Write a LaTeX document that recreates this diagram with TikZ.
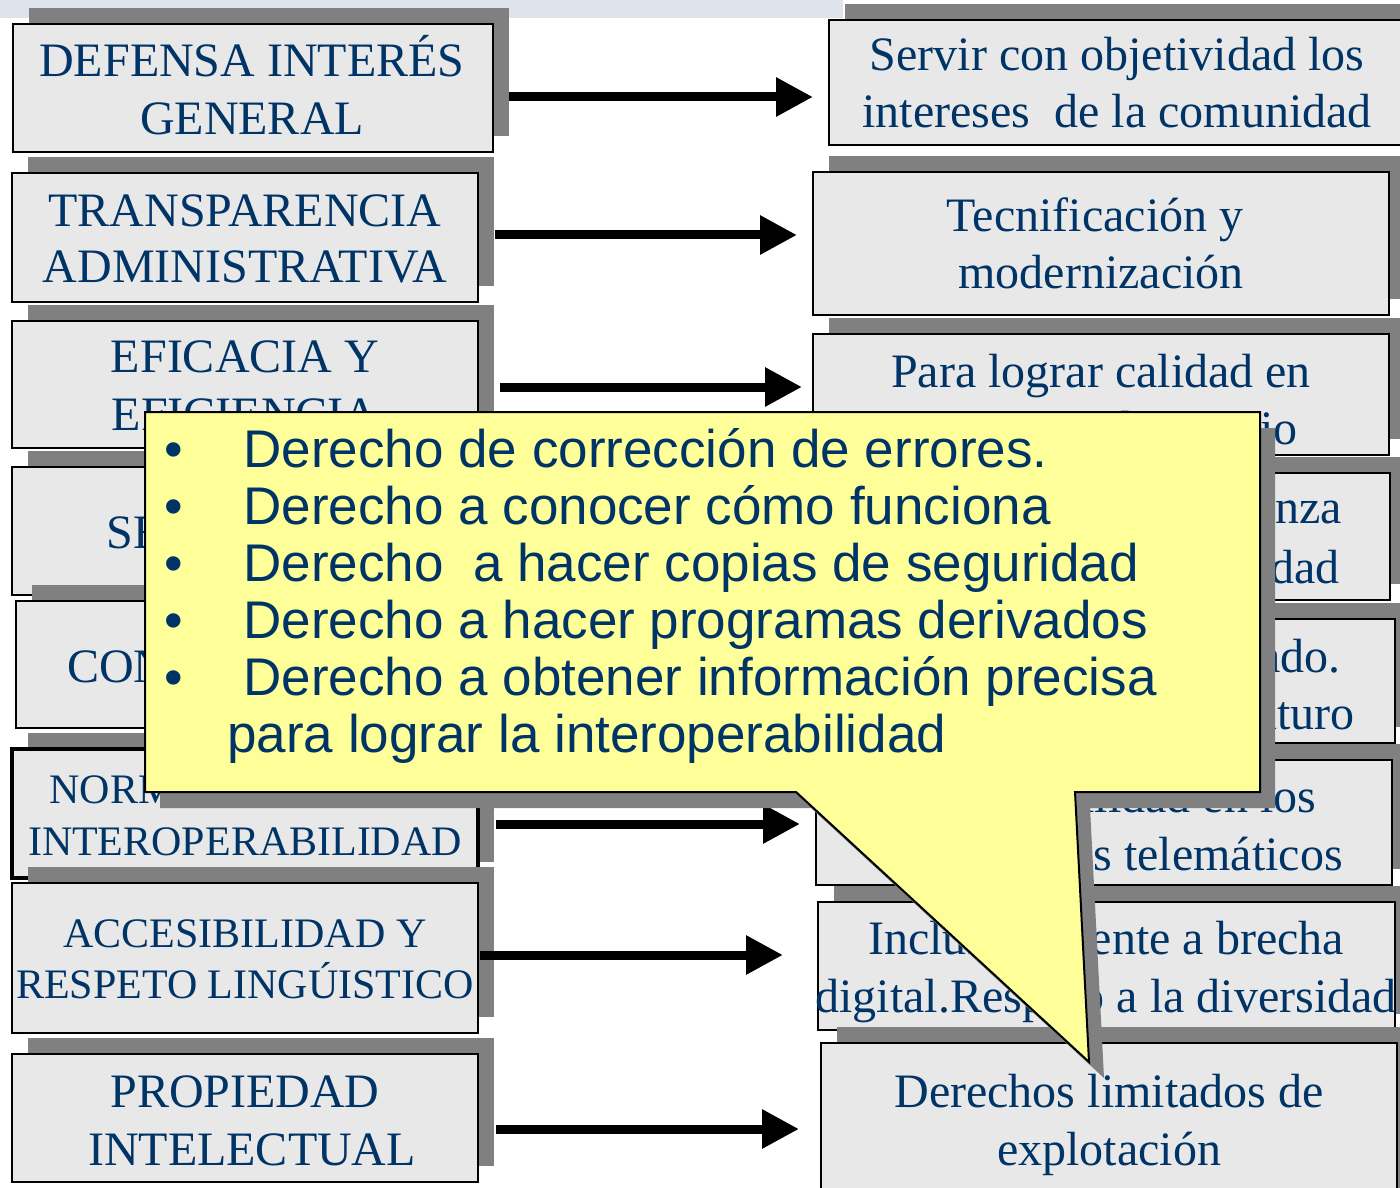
\documentclass[tikz,border=0pt]{standalone}
\usepackage{fontspec}
\setmainfont{Liberation Serif}
\newfontfamily\arialf{Liberation Sans}
\usetikzlibrary{arrows.meta,shadows}
\definecolor{txt}{RGB}{0,51,102}
\definecolor{boxfill}{RGB}{232,232,232}
\definecolor{shd}{RGB}{128,128,128}
\definecolor{note}{RGB}{255,255,153}
\definecolor{band}{RGB}{222,227,236}
\tikzset{
  box/.style={draw=black, line width=1pt, fill=boxfill, inner sep=0pt, outer sep=0pt,
    drop shadow={shadow xshift=8pt, shadow yshift=8pt, fill=shd, opacity=1}},
  bt/.style={anchor=base, inner sep=0pt, text=txt, font=\fontsize{24}{29}\selectfont},
  bts/.style={anchor=base, inner sep=0pt, text=txt, font=\fontsize{21}{25}\selectfont},
  bte/.style={anchor=base east, inner sep=0pt, text=txt, font=\fontsize{24}{29}\selectfont},
  arr/.style={line width=4.5pt, -{Triangle[length=18.5pt,width=18.5pt]}},
  nt/.style={anchor=base west, inner sep=0pt, text=txt, font=\arialf\fontsize{26.5}{28.5}\selectfont},
  bul/.style={anchor=base, inner sep=0pt, text=txt, font=\arialf\fontsize{26.5}{28.5}\selectfont},
}
\begin{document}
\begin{tikzpicture}[x=0.5pt,y=-0.5pt]
\useasboundingbox (0,0) rectangle (1400,1187);
\clip (0,0) rectangle (1400,1187);
\fill[band] (0,0) rectangle (843,18);

% ---------- left column ----------
\node[box, minimum width=240pt, minimum height=64pt] (L1) at (253,88) {};
\node[bt] (L1a) at (252,77) {DEFENSA INTERÉS};
\node[bt] (L1b) at (252,135) {GENERAL};

\node[box, minimum width=233pt, minimum height=64.5pt] (L2) at (245,237.5) {};
\node[bt] (L2a) at (245,227) {TRANSPARENCIA};
\node[bt] (L2b) at (245,283) {ADMINISTRATIVA};

\node[box, minimum width=233pt, minimum height=63.5pt] (L3) at (245,384.5) {};
\node[bt] (L3a) at (245,372) {EFICACIA Y};
\node[bt] (L3b) at (245,430) {EFICIENCIA};

\node[box, minimum width=233pt, minimum height=64pt] (L4) at (245,531) {};
\node[bt] (L4a) at (245,548) {SEGURIDAD};

\node[box, minimum width=233pt, minimum height=63.5pt] (L5) at (249,664.5) {};
\node[bt] (L5a) at (250,682) {CONSERVACIÓN};

\node[box, line width=1.6pt, minimum width=233pt, minimum height=64.5pt] (L6) at (245,813.5) {};
\node[bts] (L6a) at (245,803) {NORMALIZACIÓN E};
\node[bts] (L6b) at (245,855) {INTEROPERABILIDAD};

\node[box, minimum width=233pt, minimum height=75pt] (L7) at (245,957.5) {};
\node[bts] (L7a) at (245,947) {ACCESIBILIDAD Y};
\node[bts] (L7b) at (245,998) {RESPETO LINGÚISTICO};

\node[box, minimum width=233pt, minimum height=64pt] (L8) at (245,1118) {};
\node[bt] (L8a) at (245,1107) {PROPIEDAD};
\node[bt] (L8b) at (252,1165) {INTELECTUAL};

% ---------- right column ----------
\node[box, minimum width=288pt, minimum height=62.5pt] (R1) at (1117,82.5) {};
\node[bt] (R1a) at (1117,71) {Servir con objetividad los};
\node[bt] (R1b) at (1117,128) {intereses\ \ de la comunidad};

\node[box, minimum width=288pt, minimum height=71.5pt] (R2) at (1101,243.5) {};
\node[bt] (R2a) at (1095,232) {Tecnificación y};
\node[bt] (R2b) at (1101,289) {modernización};

\node[box, minimum width=288pt, minimum height=60.5pt] (R3) at (1101,394.5) {};
\node[bt] (R3a) at (1101,387) {Para lograr calidad en};
\node[bte] (R3b) at (1298,444) {el servicio};

\node[box, minimum width=288.5pt, minimum height=63.5pt] (R4) at (1101.5,536.5) {};
\node[bte] (R4a) at (1342,523) {Generar confianza};
\node[bte] (R4b) at (1340,583) {y seguridad};

\node[box, minimum width=288.5pt, minimum height=62pt] (R5) at (1106.5,681) {};
\node[bte] (R5a) at (1341,672) {Conservar lo tramitado.};
\node[bte] (R5b) at (1355,729) {Acceso en el futuro};

\node[box, minimum width=288pt, minimum height=62.5pt] (R6) at (1104,822.5) {};
\node[bt] (R6a) at (1104,812) {Compatibilidad en los};
\node[bte] (R6b) at (1343,870) {Procesos telemáticos};

\node[box, minimum width=288.5pt, minimum height=64pt] (R7) at (1106.5,966) {};
\node[bt] (R7a) at (1106,954) {Inclusión frente a brecha};
\node[bt] (R7b) at (1106,1012) {digital.Respeto a la diversidad};

\node[box, minimum width=288pt, minimum height=88.5pt] (R8) at (1109,1131.5) {};
\node[bt] (R8a) at (1109,1107) {Derechos limitados de};
\node[bt] (R8b) at (1109,1165) {explotación};

% ---------- arrows ----------
\draw[arr] ([shift={(16,9)}]L1.east) -- ([shift={(-16,14.5)}]R1.west);
\draw[arr] ([shift={(17,-2.5)}]L2.east) -- ([shift={(-16,-8.5)}]R2.west);
\draw[arr] ([shift={(22,2.5)}]L3.east) -- ([shift={(-11,-7.5)}]R3.west);
\draw[arr] ([shift={(18,0)}]L4.east) -- ([shift={(-14,-5.5)}]R4.west);
\draw[arr] ([shift={(14,0)}]L5.east) -- ([shift={(-16,-16.5)}]R5.west);
\draw[arr] ([shift={(18,10.5)}]L6.east) -- ([shift={(-16,1.5)}]R6.west);
\draw[arr] ([shift={(2,-2.5)}]L7.east) -- ([shift={(-35,-11)}]R7.west);
\draw[arr] ([shift={(18,11)}]L8.east) -- ([shift={(-22,-2.5)}]R8.west);

% ---------- callout ----------
\begin{scope}[shift={(15,16)}]
\fill[shd] (145,412) -- (1260,412) -- (1260,792) -- (1075,792) -- (1089,1062) -- (796,792) -- (145,792) -- cycle;
\end{scope}
\filldraw[fill=note, draw=black, line width=1pt] (145,412) -- (1260,412) -- (1260,792) -- (1075,792) -- (1089,1062) -- (796,792) -- (145,792) -- cycle;

\node[bul] (B1) at (174,467) {•};
\node[bul] (B2) at (174,524) {•};
\node[bul] (B3) at (174,581) {•};
\node[bul] (B4) at (174,638) {•};
\node[bul] (B5) at (174,695) {•};
\node[nt] (T1) at (243,467) {Derecho de corrección de errores.};
\node[nt] (T2) at (243,524) {Derecho a conocer cómo funciona};
\node[nt] (T3) at (243,581) {Derecho\ \ a hacer copias de seguridad};
\node[nt] (T4) at (243,638) {Derecho a hacer programas derivados};
\node[nt] (T5) at (243,695) {Derecho a obtener información precisa};
\node[nt] (T6) at (227,752) {para lograr la interoperabilidad};
\end{tikzpicture}
\end{document}
